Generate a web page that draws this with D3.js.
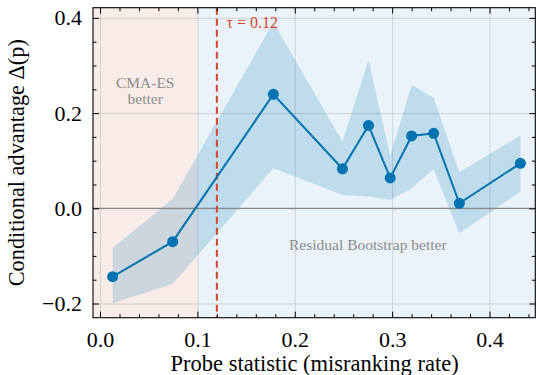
<!DOCTYPE html>
<html>
<head>
<meta charset="utf-8">
<script src="https://cdn.jsdelivr.net/npm/d3@7"></script>
<style>
  html, body { margin: 0; padding: 0; background: #fff; }
  svg { display: block; }
  text { font-family: "Liberation Serif", "Times New Roman", serif; }
</style>
</head>
<body>
<svg id="chart" width="536" height="375"></svg>
<script>
// ---- data ----
const probeX = [0.013, 0.0746, 0.178, 0.249, 0.2757, 0.298, 0.320, 0.3426, 0.369, 0.4317];
const delta  = [-0.1437, -0.070, 0.2395, 0.083, 0.174, 0.0637, 0.152, 0.1576, 0.0105, 0.0945];
const upperCI = [-0.083, 0.0195, 0.391, 0.140, 0.3115, 0.110, 0.259, 0.232, 0.0756, 0.153];
const lowerCI = [-0.1996, -0.159, 0.084, 0.028, 0.025, 0.0174, 0.042, 0.082, -0.0525, 0.035];
const tau = 0.12;
const xTicks = [0.0, 0.1, 0.2, 0.3, 0.4];
const yTicks = [-0.2, 0.0, 0.2, 0.4];
const xLabel = "Probe statistic (misranking rate)";
const yLabel = "Conditional advantage Δ(p)";
const cmaLabel = ["CMA-ES", "better"];
const rbLabel = "Residual Bootstrap better";
const tauLabel = "τ = 0.12";

// ---- layout ----
const W = 536, H = 375;
const L = 93, R = 535.3, T = 7.7, B = 317.7;
const svg = d3.select("#chart");

const x = d3.scaleLinear().domain([-0.0072, 0.447]).range([L, R]);
const y = d3.scaleLinear().domain([-0.2298, 0.4214]).range([B, T]);

const lineColor = "#0072B2";
const tauColor = "#d2472c";

// clip
svg.append("defs").append("clipPath").attr("id", "clip")
  .append("rect").attr("x", L).attr("y", T).attr("width", R - L).attr("height", B - T);
const plot = svg.append("g").attr("clip-path", "url(#clip)");

// background regions
plot.append("rect").attr("x", L).attr("y", T)
  .attr("width", x(0.1) - L).attr("height", B - T).attr("fill", "#f9ece8");
plot.append("rect").attr("x", x(0.1)).attr("y", T)
  .attr("width", R - x(0.1)).attr("height", B - T).attr("fill", "#eaf3f9");

// grid
const gridX = d3.axisBottom(x).tickValues(xTicks).tickSize(-(B - T)).tickFormat("");
const gridY = d3.axisLeft(y).tickValues(yTicks).tickSize(-(R - L)).tickFormat("");
const gx = plot.append("g").attr("transform", `translate(0,${B})`).call(gridX);
const gy = plot.append("g").attr("transform", `translate(${L},0)`).call(gridY);
[gx, gy].forEach(g => {
  g.select(".domain").remove();
  g.selectAll("line").attr("stroke", "#b8b8b8").attr("stroke-opacity", 0.55).attr("stroke-width", 1);
});

// CI band
const pts = probeX.map((p, i) => ({ x: p, y: delta[i], lo: lowerCI[i], hi: upperCI[i] }));
plot.append("path").datum(pts)
  .attr("d", d3.area().x(d => x(d.x)).y0(d => y(d.lo)).y1(d => y(d.hi)))
  .attr("fill", lineColor).attr("fill-opacity", 0.18);

// zero line
plot.append("line").attr("x1", L).attr("x2", R).attr("y1", y(0)).attr("y2", y(0))
  .attr("stroke", "#888").attr("stroke-width", 1.2);

// tau line
plot.append("line").attr("x1", x(tau)).attr("x2", x(tau)).attr("y1", T).attr("y2", B)
  .attr("stroke", tauColor).attr("stroke-width", 2).attr("stroke-dasharray", "7,4");

// main line
plot.append("path").datum(pts)
  .attr("d", d3.line().x(d => x(d.x)).y(d => y(d.y)))
  .attr("fill", "none").attr("stroke", lineColor).attr("stroke-width", 2);
plot.selectAll("circle.pt").data(pts).enter().append("circle")
  .attr("class", "pt").attr("cx", d => x(d.x)).attr("cy", d => y(d.y)).attr("r", 5.5)
  .attr("fill", lineColor);

// annotations
const cma = svg.append("text").attr("x", x(0.0464)).attr("y", y(0.25) - 1)
  .attr("text-anchor", "middle").attr("fill", "#8c8c8c").attr("font-size", 15.5);
cma.append("tspan").attr("x", x(0.0464)).attr("dy", 0).text(cmaLabel[0]);
cma.append("tspan").attr("x", x(0.0464)).attr("dy", 16).text(cmaLabel[1]);

svg.append("text").attr("x", x(0.275)).attr("y", y(-0.08) + 4)
  .attr("text-anchor", "middle").attr("fill", "#8c8c8c").attr("font-size", 15.5)
  .text(rbLabel);

svg.append("text").attr("x", x(tau + 0.0099)).attr("y", y(0.378))
  .attr("fill", tauColor).attr("font-size", 16).attr("xml:space", "preserve")
  .text(tauLabel);

// axes frame + ticks (inward, all four sides)
function minorTicks(scale, step, majors) {
  const [a, b] = scale.domain();
  const out = [];
  for (let v = Math.ceil(a / step) * step; v <= b + 1e-9; v += step) {
    const r = Math.round(v / step) * step;
    if (!majors.some(m => Math.abs(m - r) < 1e-9)) out.push(+r.toFixed(4));
  }
  return out;
}
const xMinor = minorTicks(x, 0.02, xTicks);
const yMinor = minorTicks(y, 0.05, yTicks);
const fmt = d3.format(".1f");
const tickFmt = d => fmt(d).replace("-", "−");

function styleAxis(g) {
  g.select(".domain").remove();
  g.selectAll("line").attr("stroke", "#000").attr("stroke-width", 1);
  g.selectAll("text").attr("font-size", 22).attr("fill", "#000")
    .style("font-family", '"Liberation Serif", "Times New Roman", serif');
}
// bottom
svg.append("g").attr("transform", `translate(0,${B})`)
  .call(d3.axisBottom(x).tickValues(xTicks).tickSize(-6).tickPadding(14).tickFormat(tickFmt))
  .call(styleAxis);
svg.append("g").attr("transform", `translate(0,${B})`)
  .call(d3.axisBottom(x).tickValues(xMinor).tickSize(-3.5).tickFormat(""))
  .call(styleAxis);
// top
svg.append("g").attr("transform", `translate(0,${T})`)
  .call(d3.axisTop(x).tickValues(xTicks).tickSize(-6).tickFormat(""))
  .call(styleAxis);
svg.append("g").attr("transform", `translate(0,${T})`)
  .call(d3.axisTop(x).tickValues(xMinor).tickSize(-3.5).tickFormat(""))
  .call(styleAxis);
// left
svg.append("g").attr("transform", `translate(${L},0)`)
  .call(d3.axisLeft(y).tickValues(yTicks).tickSize(-6).tickPadding(11).tickFormat(tickFmt))
  .call(styleAxis);
svg.append("g").attr("transform", `translate(${L},0)`)
  .call(d3.axisLeft(y).tickValues(yMinor).tickSize(-3.5).tickFormat(""))
  .call(styleAxis);
// right
svg.append("g").attr("transform", `translate(${R},0)`)
  .call(d3.axisRight(y).tickValues(yTicks).tickSize(-6).tickFormat(""))
  .call(styleAxis);
svg.append("g").attr("transform", `translate(${R},0)`)
  .call(d3.axisRight(y).tickValues(yMinor).tickSize(-3.5).tickFormat(""))
  .call(styleAxis);

svg.append("rect").attr("x", L).attr("y", T).attr("width", R - L).attr("height", B - T)
  .attr("fill", "none").attr("stroke", "#000").attr("stroke-width", 1.1);

// axis labels
svg.append("text").attr("x", (L + R) / 2 + 0.5).attr("y", 371)
  .attr("text-anchor", "middle").attr("font-size", 22.5).attr("fill", "#000").text(xLabel);
svg.append("text").attr("transform", `translate(24,${(T + B) / 2}) rotate(-90)`)
  .attr("text-anchor", "middle").attr("font-size", 22.3).attr("fill", "#000").text(yLabel);
</script>
</body>
</html>
